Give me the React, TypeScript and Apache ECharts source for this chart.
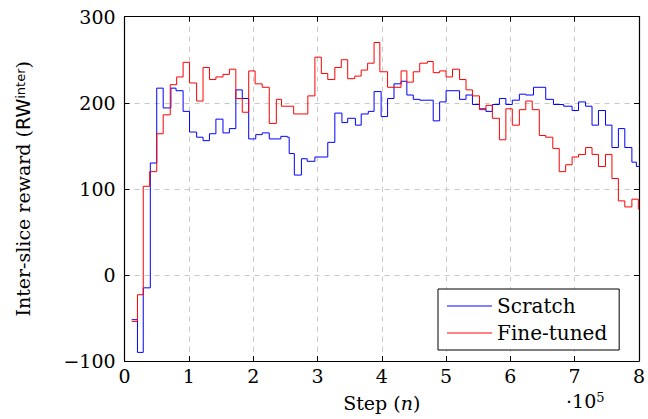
import React, { useEffect, useRef } from "react";
import * as echarts from "echarts";

const scratchSteps = [0.11, 0.2, 0.29, 0.4, 0.5, 0.6, 0.72, 0.8, 0.91, 1.01, 1.12, 1.22, 1.32, 1.42, 1.53, 1.63, 1.73, 1.83, 1.93, 2.04, 2.14, 2.25, 2.43, 2.53, 2.56, 2.64, 2.75, 2.84, 2.96, 3.16, 3.27, 3.38, 3.47, 3.59, 3.68, 3.79, 3.88, 3.99, 4.09, 4.19, 4.3, 4.39, 4.49, 4.59, 4.8, 4.9, 5.0, 5.21, 5.31, 5.41, 5.52, 5.62, 5.72, 5.83, 5.93, 6.03, 6.14, 6.24, 6.36, 6.55, 6.67, 6.83, 6.96, 7.06, 7.17, 7.27, 7.37, 7.48, 7.58, 7.68, 7.78, 7.89, 7.96, 8.0];
const scratchValues = [-52, -90, -15, 130, 217, 194, 217, 214, 190, 166, 160, 156, 164, 181, 165, 170, 215, 205, 158, 163, 165, 158, 161, 160, 141, 116, 135, 132, 137, 154, 188, 177, 182, 174, 187, 190, 213, 184, 205, 222, 225, 209, 204, 203, 179, 201, 214, 204, 209, 198, 193, 190, 198, 205, 198, 203, 210, 209, 218, 204, 198, 196, 191, 201, 196, 174, 191, 174, 148, 170, 148, 131, 126, 126];

const fineSteps = [0.11, 0.2, 0.29, 0.39, 0.5, 0.6, 0.71, 0.81, 0.91, 1.01, 1.12, 1.22, 1.32, 1.42, 1.53, 1.63, 1.73, 1.83, 1.93, 2.03, 2.14, 2.25, 2.36, 2.44, 2.63, 2.85, 2.96, 3.06, 3.16, 3.27, 3.37, 3.47, 3.58, 3.68, 3.78, 3.88, 3.97, 4.09, 4.3, 4.39, 4.49, 4.59, 4.71, 4.8, 4.9, 5.0, 5.1, 5.21, 5.31, 5.41, 5.52, 5.62, 5.72, 5.83, 5.93, 6.03, 6.14, 6.24, 6.34, 6.45, 6.55, 6.66, 6.76, 6.86, 6.96, 7.06, 7.17, 7.27, 7.37, 7.48, 7.58, 7.68, 7.78, 7.89, 7.99, 8.0];
const fineValues = [-54, -23, 103, 120, 164, 186, 221, 230, 247, 223, 202, 241, 227, 230, 233, 239, 205, 189, 237, 222, 218, 176, 204, 196, 187, 208, 253, 234, 227, 241, 250, 228, 231, 238, 246, 270, 236, 218, 237, 224, 236, 246, 248, 235, 237, 230, 239, 227, 215, 208, 192, 197, 182, 157, 193, 174, 192, 202, 192, 162, 160, 147, 120, 128, 137, 140, 148, 140, 126, 140, 112, 86, 79, 88, 76, 76];

const xTicks = [0, 1, 2, 3, 4, 5, 6, 7, 8];
const yTicks = [-100, 0, 100, 200, 300];
const seriesNames = ["Scratch", "Fine-tuned"];

const SERIF = "DejaVu Serif";

export default function App() {
  const ref = useRef<HTMLDivElement>(null);
  useEffect(() => {
    if (!ref.current) return;
    const chart = echarts.init(ref.current, null, { renderer: "svg" });
    const zip = (xs: number[], ys: number[]) => xs.map((x, i) => [x, ys[i]]);
    const xMin = xTicks[0], xMax = xTicks[xTicks.length - 1];
    const yMin = yTicks[0], yMax = yTicks[yTicks.length - 1];
    const grid = { left: 124.6, right: 6.5, top: 16.7, bottom: 58 };
    const baseX = { type: "value" as const, min: xMin, max: xMax, interval: 1 };
    const baseY = { type: "value" as const, min: yMin, max: yMax, interval: 100 };
    chart.setOption({
      animation: false,
      grid,
      xAxis: [
        {
          ...baseX,
          position: "bottom",
          axisLine: { show: true, onZero: false, lineStyle: { color: "#000", width: 1.2 } },
          axisTick: { show: true, inside: true, length: 5, lineStyle: { color: "#000" } },
          axisLabel: { margin: 5, color: "#000", fontFamily: SERIF, fontSize: 19 },
          splitLine: { show: true, lineStyle: { color: "#c8c8c8", type: [5, 5], width: 1 } },
          name: "{s|Step (}{i|n}{s|)}",
          nameLocation: "middle",
          nameGap: 32,
          nameTextStyle: {
            rich: {
              s: { fontFamily: SERIF, fontSize: 19, color: "#000" },
              i: { fontFamily: SERIF, fontSize: 19, fontStyle: "italic", color: "#000" },
            },
          },
        },
        {
          ...baseX,
          position: "top",
          axisLine: { show: true, onZero: false, lineStyle: { color: "#000", width: 1.2 } },
          axisTick: { show: true, inside: true, length: 5, lineStyle: { color: "#000" } },
          axisLabel: { show: false },
          splitLine: { show: false },
        },
      ],
      yAxis: [
        {
          ...baseY,
          position: "left",
          axisLine: { show: true, onZero: false, lineStyle: { color: "#000", width: 1.2 } },
          axisTick: { show: true, inside: true, length: 5, lineStyle: { color: "#000" } },
          axisLabel: {
            margin: 9,
            color: "#000",
            fontFamily: SERIF,
            fontSize: 19,
            formatter: (v: number) => (v < 0 ? "\u2212" + Math.abs(v) : String(v)),
          },
          splitLine: { show: true, lineStyle: { color: "#c8c8c8", type: [5, 5], width: 1 } },
          name: "{s|Inter-slice reward (}{r|RW}{sup|inter}{s|)}",
          nameLocation: "middle",
          nameGap: 92,
          nameRotate: 90,
          nameTextStyle: {
            rich: {
              s: { fontFamily: SERIF, fontSize: 19, color: "#000", verticalAlign: "bottom" },
              r: { fontFamily: "DejaVu Sans", fontSize: 19, color: "#000", verticalAlign: "bottom" },
              sup: { fontFamily: "DejaVu Sans", fontSize: 13, color: "#000", verticalAlign: "top" },
            },
          },
        },
        {
          ...baseY,
          position: "right",
          axisLine: { show: true, onZero: false, lineStyle: { color: "#000", width: 1.2 } },
          axisTick: { show: true, inside: true, length: 5, lineStyle: { color: "#000" } },
          axisLabel: { show: false },
          splitLine: { show: false },
        },
      ],
      legend: {
        orient: "vertical",
        left: 438,
        top: 289,
        padding: [6, 12, 6, 9],
        itemGap: 5,
        itemWidth: 45,
        itemHeight: 1.3,
        icon: "rect",
        borderColor: "#000",
        borderWidth: 1,
        borderRadius: 0,
        backgroundColor: "#fff",
        textStyle: { fontFamily: SERIF, fontSize: 20, color: "#000", lineHeight: 22 },
        data: seriesNames,
      },
      graphic: [
        {
          type: "text",
          left: 566,
          top: 391,
          style: {
            text: "{a|\u00b710}{b|5}",
            rich: {
              a: { fontFamily: SERIF, fontSize: 19, fill: "#000", verticalAlign: "bottom" },
              b: { fontFamily: SERIF, fontSize: 13, fill: "#000", verticalAlign: "top" },
            },
          },
        },
      ],
      series: [
        {
          name: seriesNames[0],
          type: "line",
          step: "end",
          symbol: "none",
          data: zip(scratchSteps, scratchValues),
          lineStyle: { color: "#0000ff", width: 1 },
          itemStyle: { color: "#5a5aff" },
          z: 3,
        },
        {
          name: seriesNames[1],
          type: "line",
          step: "end",
          symbol: "none",
          data: zip(fineSteps, fineValues),
          lineStyle: { color: "#ff0000", width: 1 },
          itemStyle: { color: "#ff5a5a" },
          z: 4,
        },
      ],
    });
    return () => chart.dispose();
  }, []);
  return <div ref={ref} style={{ width: 648, height: 419, position: "absolute", left: 0, top: 0 }} />;
}
